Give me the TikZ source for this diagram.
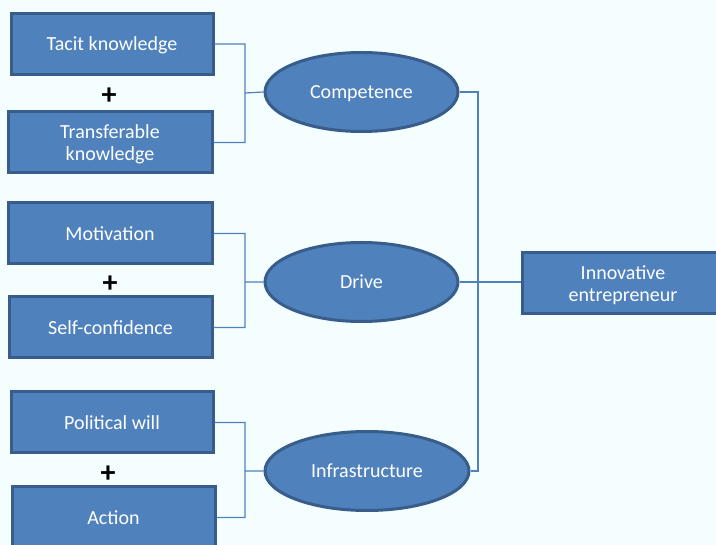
\documentclass[tikz,border=0pt]{standalone}
\usepackage{fontspec}
\setmainfont{Carlito}
\usetikzlibrary{positioning}
\usetikzlibrary{shapes.geometric}

\definecolor{boxfill}{HTML}{4F81BD}
\definecolor{boxline}{HTML}{385D8A}
\definecolor{paper}{HTML}{F4FEFF}

\begin{document}
\begin{tikzpicture}
	[x=1pt,y=-1pt,
	main node/.style={shape=rectangle,draw=boxline,fill=boxfill,line width=3pt,
		text=white,align=center,font=\fontsize{20}{22}\selectfont,text depth=0pt,
		minimum width=202pt,minimum height=61pt,inner sep=0pt},
	goal node/.style={shape=ellipse,draw=boxline,fill=boxfill,line width=3pt,
		text=white,font=\fontsize{20}{22}\selectfont,text depth=0pt,
		minimum width=193pt,minimum height=79pt,inner sep=0pt},
	plus/.style={font=\fontsize{30}{30}\selectfont\bfseries},
	link/.style={draw=boxfill,line width=1.2pt}]
	\fill[paper] (0,0) rectangle (716,545);
	\useasboundingbox (0,0) rectangle (716,545);

	\node [main node] (1) at (112,44) {Tacit knowledge};
	\node [main node,minimum width=204pt] (2) at (110,142.5) {Transferable\\knowledge};
	\node [main node,minimum width=204pt] (3) at (110,233.5) {Motivation};
	\node [main node,minimum width=203pt] (4) at (110.5,327.5) {Self-confidence};
	\node [main node] (5) at (112,422.5) {Political will};
	\node [main node,minimum width=203pt] (6) at (113.5,517.5) {Action};

	\node [plus] (p1) at (109,96) {+};
	\node [plus] (p2) at (110,284) {+};
	\node [plus] (p3) at (108,474) {+};

	\node [goal node] (a) at (361.5,92) {Competence};
	\node [goal node] (b) at (361.5,282) {Drive};
	\node [goal node,minimum width=204pt] (c) at (367,471) {Infrastructure};

	\node [main node] (7) at (623,283.5) {Innovative\\entrepreneur};

	\coordinate (j1) at (245,93);
	\coordinate (j2) at (245,282);
	\coordinate (j3) at (245,471);
	\coordinate (k) at (478,282);

	% pairs into the ellipses
	\path[link]
	(1.east) -- (1.east -| j1) -- (2.east -| j1) -- (2.east)
	(j1) -- (a.west)
	(3.east) -- (3.east -| j2) -- (4.east -| j2) -- (4.east)
	(j2) -- (b.west)
	(5.east) -- (5.east -| j3) -- (6.east -| j3) -- (6.east)
	(j3) -- (c.west);

	% ellipses into the result
	\path[link]
	(a.east) -- (a.east -| k) -- (c.east -| k) -- (c.east)
	(b.east) -- (b.east -| 7.west);

\end{tikzpicture}
\end{document}
